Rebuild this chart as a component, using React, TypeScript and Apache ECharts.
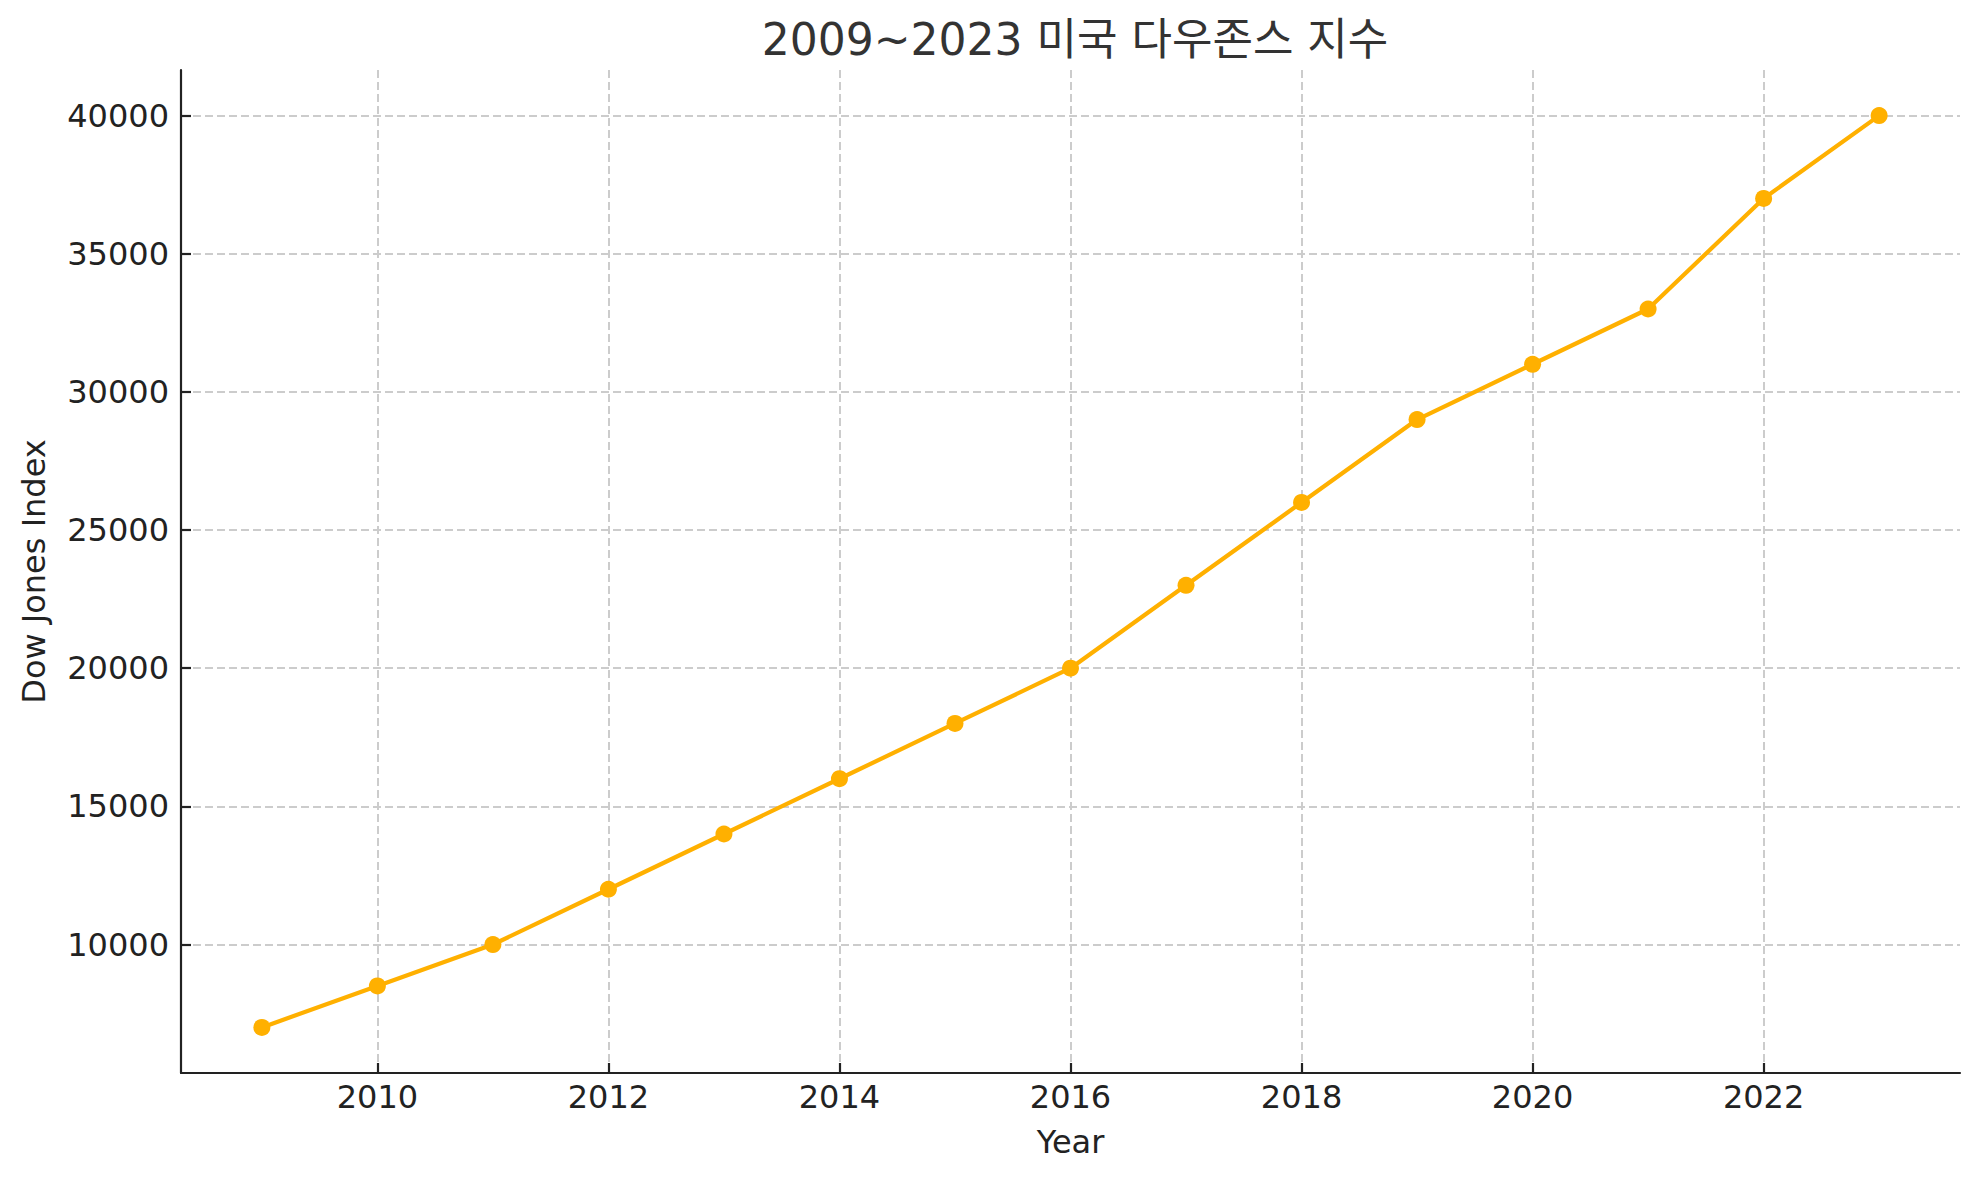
import React, { useEffect, useRef } from "react";
import * as echarts from "echarts";

const years = [2009, 2010, 2011, 2012, 2013, 2014, 2015, 2016, 2017, 2018, 2019, 2020, 2021, 2022, 2023];
const dowValues = [7000, 8500, 10000, 12000, 14000, 16000, 18000, 20000, 23000, 26000, 29000, 31000, 33000, 37000, 40000];
const xTicks = [2010, 2012, 2014, 2016, 2018, 2020, 2022];
const yTicks = [10000, 15000, 20000, 25000, 30000, 35000, 40000];
const titleText = "2009~2023 미국 다우존스 지수";
const xName = "Year";
const yName = "Dow Jones Index";

const FONT = "'DejaVu Sans', 'Noto Sans CJK KR', sans-serif";

export default function App() {
  const ref = useRef<HTMLDivElement>(null);
  useEffect(() => {
    document.body.style.margin = "0";
    document.body.style.overflow = "hidden";
    if (!ref.current) return;
    const chart = echarts.init(ref.current, null, { renderer: "svg" });
    const axisColor = "#222222";
    chart.setOption({
      animation: false,
      backgroundColor: "#ffffff",
      textStyle: { fontFamily: FONT },
      title: {
        text: titleText,
        left: 1070,
        textAlign: "center",
        top: 12,
        textStyle: { fontFamily: FONT, fontSize: 44, fontWeight: "normal", color: "#333333" },
      },
      grid: { left: 181, right: 19, top: 70, bottom: 107 },
      xAxis: {
        type: "value",
        min: 2008.3,
        max: 2023.7,
        name: xName,
        nameLocation: "middle",
        nameGap: 53,
        nameTextStyle: { fontFamily: FONT, fontSize: 32, color: axisColor },
        axisLine: { show: true, lineStyle: { color: axisColor, width: 2.2 } },
        axisTick: { show: true, inside: true, length: 10, customValues: xTicks, lineStyle: { color: axisColor, width: 2.2 } },
        axisLabel: {
          customValues: xTicks,
          margin: 8,
          fontFamily: FONT,
          fontSize: 32,
          color: axisColor,
          formatter: (v: number) => String(v),
        },
        splitLine: { show: true, lineStyle: { color: "#cccccc", width: 2, type: [8, 4] } },
      },
      yAxis: {
        type: "value",
        min: 5350,
        max: 41650,
        name: yName,
        nameLocation: "middle",
        nameGap: 131,
        nameTextStyle: { fontFamily: FONT, fontSize: 32, color: axisColor },
        axisLine: { show: true, lineStyle: { color: axisColor, width: 2.2 } },
        axisTick: { show: true, inside: true, length: 10, customValues: yTicks, lineStyle: { color: axisColor, width: 2.2 } },
        axisLabel: {
          customValues: yTicks,
          margin: 12,
          fontFamily: FONT,
          fontSize: 32,
          color: axisColor,
          formatter: (v: number) => String(v),
        },
        splitLine: { show: true, lineStyle: { color: "#cccccc", width: 2, type: [8, 4] } },
      },
      series: [
        {
          type: "line",
          data: years.map((y, i) => [y, dowValues[i]]),
          symbol: "circle",
          symbolSize: 17,
          lineStyle: { color: "#FFB000", width: 4.2 },
          itemStyle: { color: "#FFB000" },
          z: 5,
        },
      ],
    });
    return () => chart.dispose();
  }, []);
  return <div ref={ref} style={{ width: 1979, height: 1180 }} />;
}
